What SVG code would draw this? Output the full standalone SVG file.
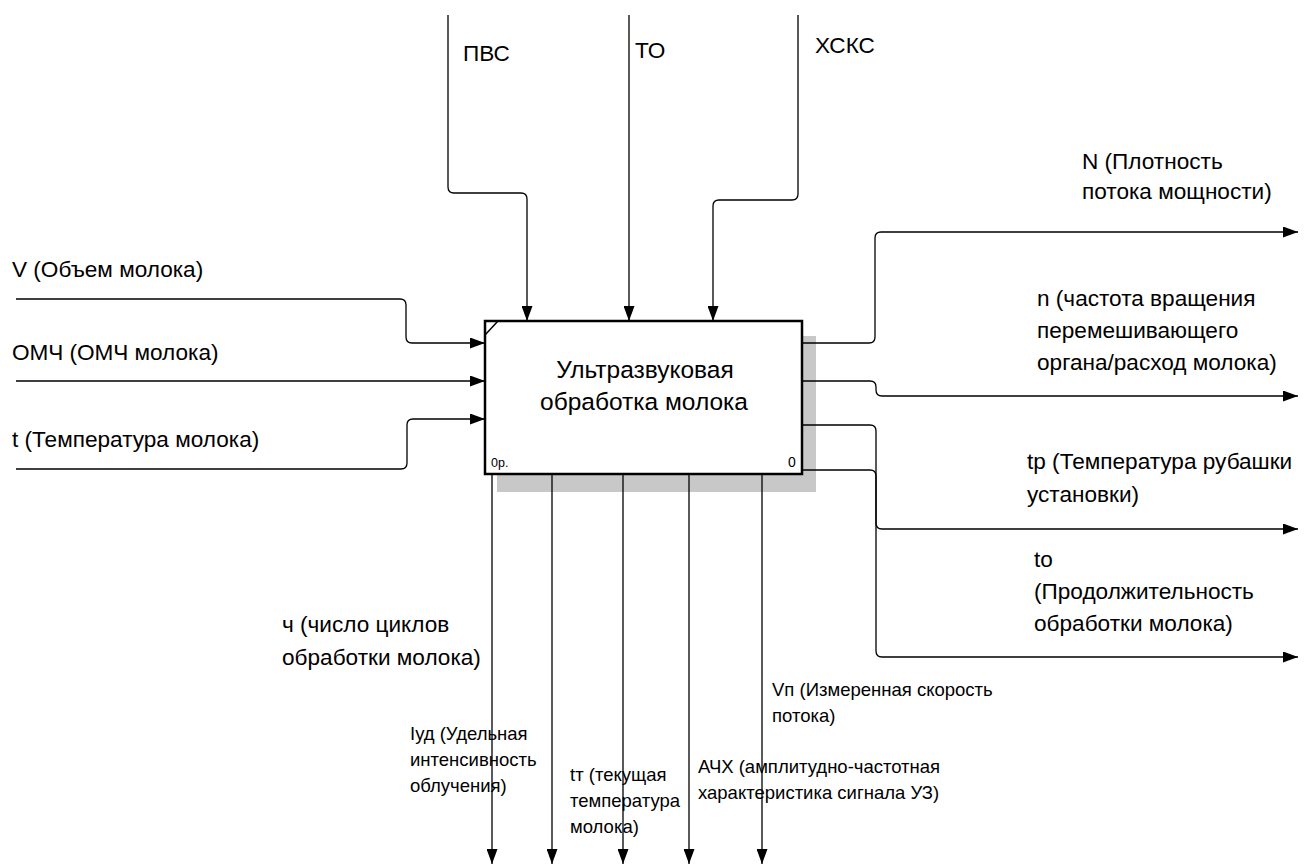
<svg xmlns="http://www.w3.org/2000/svg" width="1306" height="864" viewBox="0 0 1306 864">
<defs>
<marker id="arr" markerUnits="userSpaceOnUse" markerWidth="15" markerHeight="11" refX="15" refY="5.5" orient="auto">
<path d="M0,0 L15,5.5 L0,11 z" fill="#000"/>
</marker>
<style>
.c{fill:none;stroke:#000;stroke-width:1.3;marker-end:url(#arr)}
.t{font-family:"Liberation Sans",Arial,sans-serif;font-size:22.6px;fill:#000}
.s{font-family:"Liberation Sans",Arial,sans-serif;font-size:18.5px;fill:#000}
.b{font-family:"Liberation Sans",Arial,sans-serif;font-size:24.5px;fill:#000}
</style>
</defs>
<rect width="1306" height="864" fill="#fff"/>
<g id="node-A0">
<rect x="497" y="336" width="319" height="156" fill="#c8c8c8"/>
<rect x="485" y="321" width="317" height="153" fill="#fff" stroke="#000" stroke-width="2.5"/>
<line x1="485" y1="335" x2="498" y2="321" stroke="#000" stroke-width="1.5"/>
<text class="b" x="645" y="378" text-anchor="middle">Ультразвуковая</text>
<text class="b" x="644" y="410" text-anchor="middle">обработка молока</text>
<text x="491" y="467" font-family="Liberation Sans,Arial,sans-serif" font-size="12.5">0р.</text>
<text x="788" y="467" font-family="Liberation Sans,Arial,sans-serif" font-size="14">0</text>
</g>
<g id="connectors">
<path class="c" d="M448,15 V187 Q448,193 454,193 H521 Q527,193 527,199 V321"/>
<path class="c" d="M629,15 V321"/>
<path class="c" d="M798,15 V194 Q798,200 792,200 H719 Q713,200 713,206 V321"/>
<path class="c" d="M16,299 H400 Q406,299 406,305 V337 Q406,343 412,343 H485"/>
<path class="c" d="M16,381 H485"/>
<path class="c" d="M16,469 H401 Q407,469 407,463 V425 Q407,419 413,419 H485"/>
<path class="c" d="M802,343 H869 Q875,343 875,337 V238 Q875,232 881,232 H1298"/>
<path class="c" d="M802,381 H870 Q876,381 876,387 V390 Q876,396 882,396 H1298"/>
<path class="c" d="M802,425 H870 Q876,425 876,431 V523 Q876,529 882,529 H1298"/>
<path class="c" d="M802,470 H870 Q876,470 876,476 V651 Q876,657 882,657 H1298"/>
<path class="c" d="M492,474 V864"/>
<path class="c" d="M552,474 V864"/>
<path class="c" d="M623,474 V864"/>
<path class="c" d="M689,474 V864"/>
<path class="c" d="M762,474 V864"/>
</g>
<g id="labels">
<text class="t" x="463" y="61">ПВС</text>
<text class="t" x="635" y="58">ТО</text>
<text class="t" x="815" y="53">ХСКС</text>
<text class="t" x="12" y="277">V (Объем молока)</text>
<text class="t" x="12" y="360">ОМЧ (ОМЧ молока)</text>
<text class="t" x="12" y="447">t (Температура молока)</text>
<text class="t" x="1082" y="169">N (Плотность</text>
<text class="t" x="1082" y="199">потока мощности)</text>
<text class="t" x="1037" y="306">n (частота вращения</text>
<text class="t" x="1037" y="338">перемешивающего</text>
<text class="t" x="1037" y="370">органа/расход молока)</text>
<text class="t" x="1027" y="469">tp (Температура рубашки</text>
<text class="t" x="1027" y="502">установки)</text>
<text class="t" x="1034" y="567">to</text>
<text class="t" x="1034" y="599">(Продолжительность</text>
<text class="t" x="1034" y="631">обработки молока)</text>
<text class="t" x="282" y="632">ч (число циклов</text>
<text class="t" x="282" y="665">обработки молока)</text>
<text class="s" x="410" y="740">Iуд (Удельная</text>
<text class="s" x="410" y="766">интенсивность</text>
<text class="s" x="410" y="792">облучения)</text>
<text class="s" x="570" y="781">tт (текущая</text>
<text class="s" x="570" y="807">температура</text>
<text class="s" x="570" y="833">молока)</text>
<text class="s" x="698" y="773">АЧХ (амплитудно-частотная</text>
<text class="s" x="698" y="799">характеристика сигнала УЗ)</text>
<text class="s" x="772" y="696">Vп (Измеренная скорость</text>
<text class="s" x="772" y="722">потока)</text>
</g>
</svg>
